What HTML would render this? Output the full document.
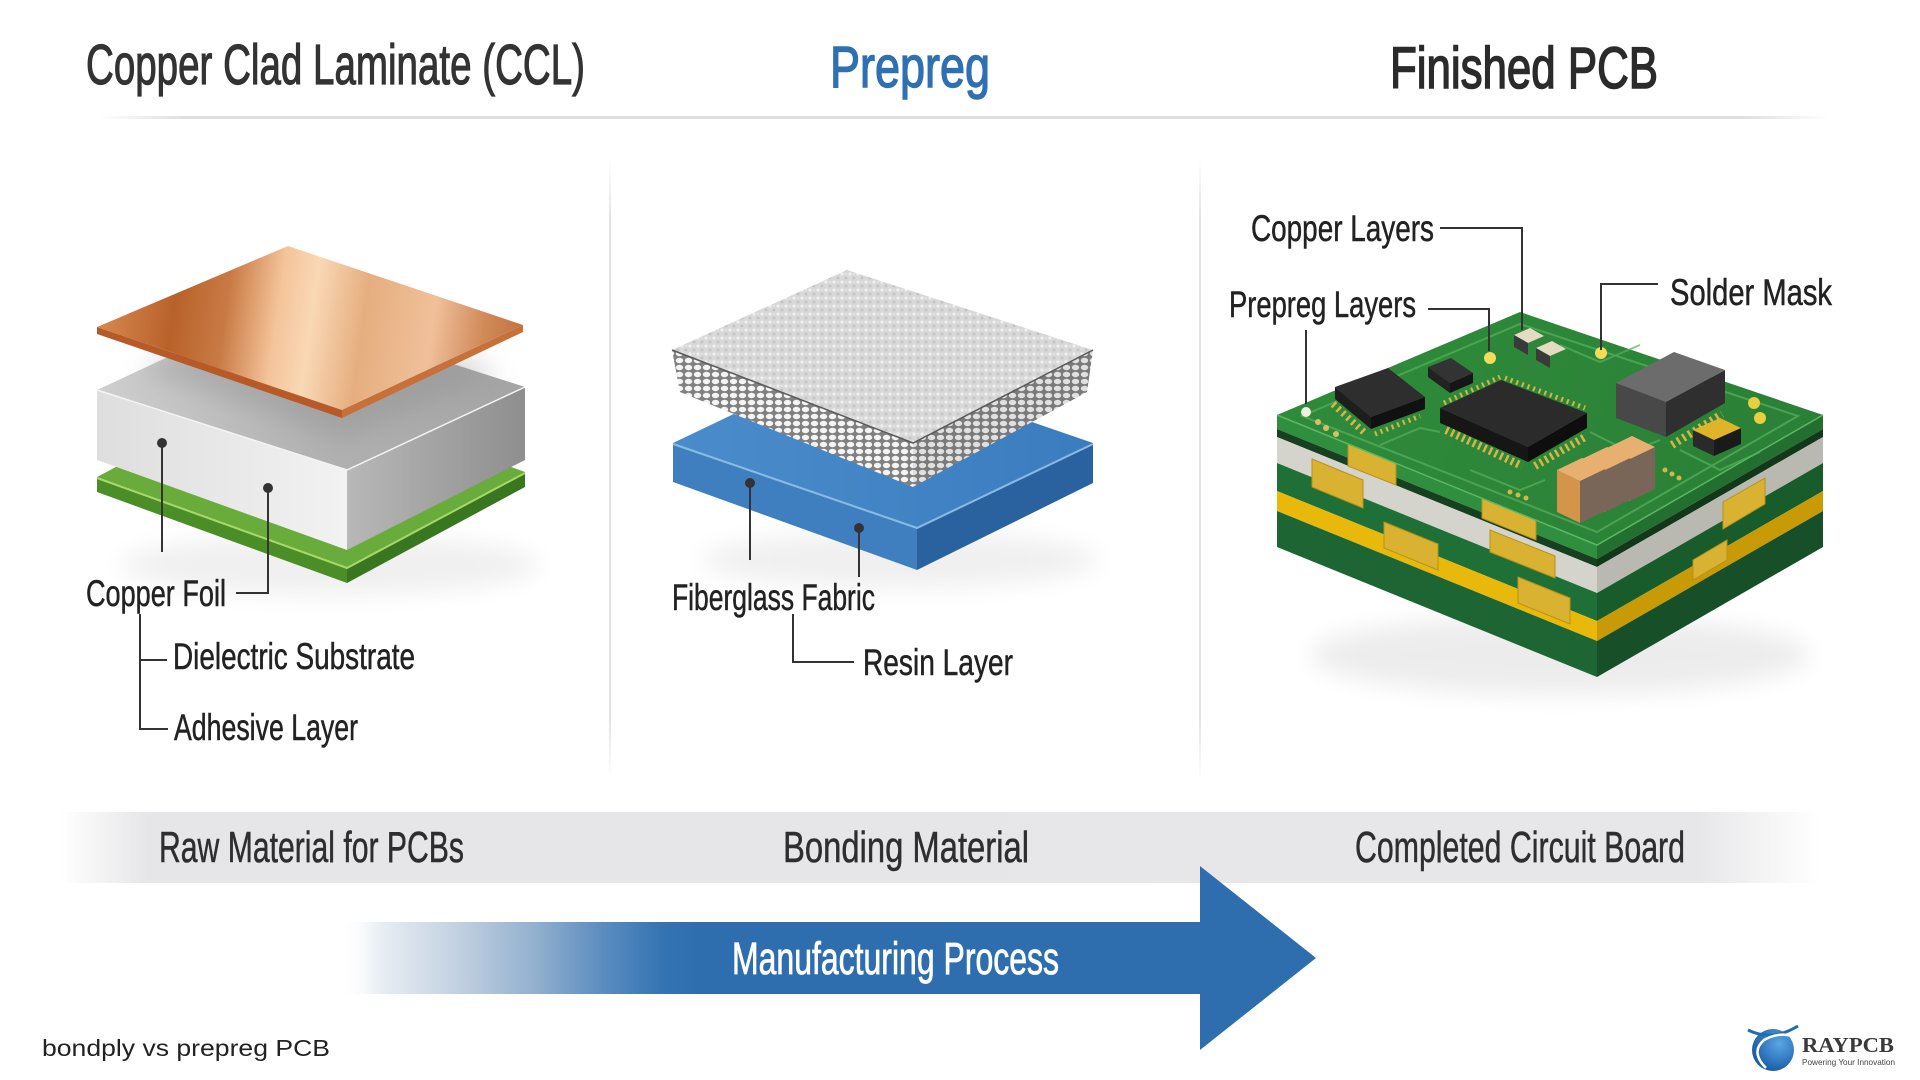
<!DOCTYPE html>
<html><head><meta charset="utf-8"><style>
html,body{margin:0;padding:0;background:#fff;}
svg{display:block}
text{font-family:"Liberation Sans Narrow","Liberation Sans",sans-serif;}
</style></head><body>
<svg width="1920" height="1080" viewBox="0 0 1920 1080" xmlns="http://www.w3.org/2000/svg">
<defs>
  <linearGradient id="sep" x1="0" x2="1" y1="0" y2="0">
    <stop offset="0" stop-color="#e2e2e2" stop-opacity="0"/>
    <stop offset="0.05" stop-color="#dedede"/>
    <stop offset="0.95" stop-color="#dedede"/>
    <stop offset="1" stop-color="#e2e2e2" stop-opacity="0"/>
  </linearGradient>
  <linearGradient id="vdiv" x1="0" x2="0" y1="0" y2="1">
    <stop offset="0" stop-color="#e4e4e4" stop-opacity="0"/>
    <stop offset="0.1" stop-color="#e2e2e2"/>
    <stop offset="0.9" stop-color="#e2e2e2"/>
    <stop offset="1" stop-color="#e4e4e4" stop-opacity="0"/>
  </linearGradient>
  <linearGradient id="band" x1="60" x2="1820" y1="0" y2="0" gradientUnits="userSpaceOnUse">
    <stop offset="0" stop-color="#e6e6e8" stop-opacity="0"/>
    <stop offset="0.05" stop-color="#e6e6e8"/>
    <stop offset="0.93" stop-color="#e7e7e9"/>
    <stop offset="1" stop-color="#e7e7e9" stop-opacity="0"/>
  </linearGradient>
  <linearGradient id="arrow" x1="340" x2="700" y1="0" y2="0" gradientUnits="userSpaceOnUse">
    <stop offset="0" stop-color="#ffffff" stop-opacity="0"/>
    <stop offset="0.11" stop-color="#e9eef4"/>
    <stop offset="0.31" stop-color="#c5d3e2"/>
    <stop offset="0.53" stop-color="#96b2d0"/>
    <stop offset="0.72" stop-color="#5e8ec0"/>
    <stop offset="0.89" stop-color="#3574b3"/>
    <stop offset="1" stop-color="#2e6eaf"/>
  </linearGradient>
  <linearGradient id="cu" x1="97" y1="300" x2="523" y2="360" gradientUnits="userSpaceOnUse">
    <stop offset="0" stop-color="#d98a52"/>
    <stop offset="0.18" stop-color="#b8622a"/>
    <stop offset="0.3" stop-color="#c97a44"/>
    <stop offset="0.42" stop-color="#f4c49a"/>
    <stop offset="0.5" stop-color="#f9d8b4"/>
    <stop offset="0.62" stop-color="#e6ae80"/>
    <stop offset="0.78" stop-color="#f0c09a"/>
    <stop offset="0.9" stop-color="#d08a58"/>
    <stop offset="1" stop-color="#c27040"/>
  </linearGradient>
  <linearGradient id="gtop" x1="97" x2="525" y1="0" y2="0" gradientUnits="userSpaceOnUse">
    <stop offset="0" stop-color="#cfcfcf"/>
    <stop offset="0.5" stop-color="#b2b2b2"/>
    <stop offset="1" stop-color="#a4a4a4"/>
  </linearGradient>
  <linearGradient id="gleft" x1="97" x2="347" y1="0" y2="0" gradientUnits="userSpaceOnUse">
    <stop offset="0" stop-color="#dedede"/>
    <stop offset="1" stop-color="#f2f2f2"/>
  </linearGradient>
  <linearGradient id="gright" x1="347" x2="525" y1="0" y2="0" gradientUnits="userSpaceOnUse">
    <stop offset="0" stop-color="#b8b8b8"/>
    <stop offset="1" stop-color="#8e8e8e"/>
  </linearGradient>
  <linearGradient id="btop" x1="673" x2="1093" y1="0" y2="0" gradientUnits="userSpaceOnUse">
    <stop offset="0" stop-color="#4a8ccb"/>
    <stop offset="1" stop-color="#3b7cbf"/>
  </linearGradient>
  <linearGradient id="pcbtop" x1="1277" x2="1823" y1="312" y2="545" gradientUnits="userSpaceOnUse">
    <stop offset="0" stop-color="#2f8c3b"/>
    <stop offset="1" stop-color="#2a7f36"/>
  </linearGradient>
  <radialGradient id="logo" cx="0.65" cy="0.35" r="0.8">
    <stop offset="0" stop-color="#5aa6e6"/>
    <stop offset="1" stop-color="#0f4f9a"/>
  </radialGradient>
  <pattern id="hex" width="9" height="7" patternUnits="userSpaceOnUse">
    <rect width="9" height="7" fill="#808080"/>
    <ellipse cx="4.5" cy="3.5" rx="3.7" ry="2.7" fill="#f4f4f4"/>
  </pattern>
  <pattern id="fab" width="8" height="8" patternUnits="userSpaceOnUse">
    <rect width="8" height="8" fill="#d8d8d8"/>
    <circle cx="2" cy="2" r="1.6" fill="#f0f0f0"/>
    <circle cx="6" cy="6" r="1.4" fill="#c2c2c2"/>
    <circle cx="6" cy="2" r="1" fill="#e6e6e6"/>
  </pattern>
  <filter id="blur" x="-30%" y="-30%" width="160%" height="160%"><feGaussianBlur stdDeviation="12"/></filter>
</defs>

<rect width="1920" height="1080" fill="#ffffff"/>

<!-- Titles -->
<text x="86" y="84" font-size="57" textLength="499" lengthAdjust="spacingAndGlyphs" fill="#333" stroke="#333" stroke-width="1.2">Copper Clad Laminate (CCL)</text>
<text x="830" y="87" font-size="58" textLength="160" lengthAdjust="spacingAndGlyphs" fill="#2f70b3" stroke="#2f70b3" stroke-width="1.4">Prepreg</text>
<text x="1390" y="88" font-size="58" textLength="268" lengthAdjust="spacingAndGlyphs" fill="#2b2b2b" stroke="#2b2b2b" stroke-width="1.6">Finished PCB</text>

<rect x="98" y="116" width="1732" height="3" fill="url(#sep)"/>

<!-- dividers -->
<rect x="609" y="157" width="2" height="624" fill="url(#vdiv)"/>
<rect x="1199" y="157" width="2" height="624" fill="url(#vdiv)"/>

<!-- ===== CCL illustration ===== -->
<ellipse cx="330" cy="565" rx="210" ry="30" fill="#000" opacity="0.06" filter="url(#blur)"/>
<!-- green adhesive -->
<polygon points="97,477 275,382 525,472 347,567" fill="#6aac3c"/>
<polygon points="97,477 347,567 347,583 97,492" fill="#4b8d27"/>
<polygon points="347,567 525,472 525,487 347,583" fill="#3a7520"/>
<polyline points="97,478 347,568 525,473" fill="none" stroke="#a6d86a" stroke-width="2"/>
<!-- gray dielectric -->
<polygon points="97,390 275,307 525,387 347,470" fill="url(#gtop)"/>
<polygon points="97,390 347,470 347,550 97,460" fill="url(#gleft)"/>
<polygon points="347,470 525,387 525,460 347,550" fill="url(#gright)"/>
<polyline points="97,390 347,470 525,387" fill="none" stroke="#f4f4f4" stroke-width="1.5"/>
<!-- shadow of copper on gray top -->
<polygon points="140,370 300,300 500,372 345,440" fill="#8a8a8a" opacity="0.35" filter="url(#blur)"/>
<!-- copper -->
<polygon points="97,327 342,410 342,418 97,334" fill="#b85a28"/>
<polygon points="342,410 523,325 523,332 342,418" fill="#c8703a"/>
<polygon points="97,327 288,246 523,325 342,410" fill="url(#cu)"/>
<!-- dots & lines -->
<line x1="162" y1="443" x2="162" y2="552" stroke="#333" stroke-width="2"/>
<circle cx="162" cy="443" r="5" fill="#333"/>
<polyline points="268,488 268,593 236,593" fill="none" stroke="#333" stroke-width="2"/>
<circle cx="268" cy="488" r="5" fill="#333"/>
<g fill="#222" stroke="#222" stroke-width="0.5">
<text x="86" y="606" font-size="37" textLength="140" lengthAdjust="spacingAndGlyphs">Copper Foil</text>
<text x="173" y="669" font-size="37" textLength="242" lengthAdjust="spacingAndGlyphs">Dielectric Substrate</text>
<text x="174" y="740" font-size="37" textLength="184" lengthAdjust="spacingAndGlyphs">Adhesive Layer</text>
</g>
<polyline points="140,614 140,729 168,729" fill="none" stroke="#333" stroke-width="2"/>
<line x1="140" y1="660" x2="167" y2="660" stroke="#333" stroke-width="2"/>

<!-- ===== Prepreg illustration ===== -->
<ellipse cx="900" cy="560" rx="200" ry="28" fill="#000" opacity="0.06" filter="url(#blur)"/>
<polygon points="673,443 849,359 1093,443 917,527" fill="url(#btop)"/>
<polygon points="673,443 917,527 917,570 673,482" fill="#3f7fc0"/>
<polygon points="917,527 1093,443 1093,483 917,570" fill="#2a62a0"/>
<polyline points="673,444 917,528 1093,444" fill="none" stroke="#86bbe6" stroke-width="2"/>
<!-- mesh -->
<polygon points="672,350 913,443 913,487 680,392" fill="url(#hex)"/>
<polygon points="913,443 1093,350 1087,392 913,487" fill="url(#hex)"/>
<polygon points="913,443 1093,350 1087,392 913,487" fill="#555" opacity="0.12"/>
<polygon points="672,350 847,270 1093,350 913,443" fill="url(#fab)"/>
<polyline points="672,350 913,443 1093,350" fill="none" stroke="#5a5a5a" stroke-width="1.5"/>
<line x1="750" y1="483" x2="750" y2="560" stroke="#333" stroke-width="2"/>
<circle cx="750" cy="483" r="5" fill="#333"/>
<line x1="859" y1="528" x2="859" y2="577" stroke="#333" stroke-width="2"/>
<circle cx="859" cy="528" r="5" fill="#333"/>
<g fill="#222" stroke="#222" stroke-width="0.5">
<text x="672" y="610" font-size="37" textLength="203" lengthAdjust="spacingAndGlyphs">Fiberglass Fabric</text>
<text x="863" y="675" font-size="37" textLength="150" lengthAdjust="spacingAndGlyphs">Resin Layer</text>
</g>
<polyline points="793,614 793,662 854,662" fill="none" stroke="#333" stroke-width="2"/>

<!-- ===== PCB illustration ===== -->
<ellipse cx="1560" cy="655" rx="250" ry="40" fill="#000" opacity="0.07" filter="url(#blur)"/>
<!-- stack left face bands -->
<polygon points="1277,415 1597,545 1597,559 1277,429" fill="#2f8f3e"/>
<polygon points="1277,429 1597,559 1597,567 1277,437" fill="#16401f"/>
<polygon points="1277,437 1597,567 1597,593 1277,463" fill="#d4d4cc"/>
<polygon points="1277,463 1597,593 1597,621 1277,491" fill="#1f7036"/>
<polygon points="1277,491 1597,621 1597,641 1277,511" fill="#e8b80a"/>
<polygon points="1277,511 1597,641 1597,677 1277,547" fill="#1d6634"/>
<!-- stack right face bands -->
<polygon points="1597,545 1823,415 1823,429 1597,559" fill="#226f2f"/>
<polygon points="1597,559 1823,429 1823,437 1597,567" fill="#123819"/>
<polygon points="1597,567 1823,437 1823,463 1597,593" fill="#b9b9b1"/>
<polygon points="1597,593 1823,463 1823,491 1597,621" fill="#185c2b"/>
<polygon points="1597,621 1823,491 1823,511 1597,641" fill="#c89a06"/>
<polygon points="1597,641 1823,511 1823,547 1597,677" fill="#164f28"/>
<!-- tabs -->
<g fill="#d9b232" stroke="#b8921a" stroke-width="1">
<polygon points="1348,444 1396,463 1396,485 1348,466"/>
<polygon points="1482,498 1536,520 1536,540 1482,518"/>
<polygon points="1312,459 1363,480 1363,508 1312,487"/>
<polygon points="1384,522 1438,544 1438,570 1384,548"/>
<polygon points="1490,530 1555,556 1555,578 1490,552"/>
<polygon points="1518,577 1570,598 1570,624 1518,603"/>
<polygon points="1723,502 1765,478 1765,504 1723,529"/>
<polygon points="1693,560 1727,540 1727,560 1693,580"/>
</g>
<!-- board top -->
<polygon points="1277,415 1520,312 1823,415 1597,545" fill="url(#pcbtop)"/>
<polyline points="1277,415 1597,545 1823,415" fill="none" stroke="#5cb864" stroke-width="1.5"/>
<g fill="none" stroke="#57b25e" stroke-width="2" opacity="0.7">
<polygon points="1302,416 1520,324 1798,416 1597,532"/>
<polyline points="1380,445 1420,428 1440,432"/>
<polyline points="1590,432 1630,452 1660,440"/>
<polyline points="1470,470 1520,490 1545,480"/>
<polyline points="1560,345 1600,362 1640,345"/>
<polyline points="1680,450 1720,470 1760,452"/>
<polyline points="1340,400 1380,385 1410,395"/>
</g>
<!-- left SOIC chip -->
<polygon points="1335,387 1371,417 1371,429 1335,399" fill="#1e1e1e"/>
<polygon points="1371,417 1425,397 1425,409 1371,429" fill="#111"/>
<polygon points="1335,387 1388,368 1425,397 1371,417" fill="#2e2e2e"/>
<line x1="1333" y1="404" x2="1366" y2="434" stroke="#d6b645" stroke-width="7" stroke-dasharray="2.5 4"/>
<line x1="1375" y1="434" x2="1420" y2="416" stroke="#d6b645" stroke-width="5" stroke-dasharray="2 4"/>
<circle cx="1306" cy="412" r="5" fill="#f2f0de"/>
<g fill="#d8c060"><circle cx="1318" cy="422" r="3"/><circle cx="1326" cy="428" r="3"/><circle cx="1336" cy="434" r="3"/></g>
<!-- small cube -->
<polygon points="1428,367 1450,383 1450,393 1428,377" fill="#222"/>
<polygon points="1450,383 1473,373 1473,383 1450,393" fill="#161616"/>
<polygon points="1428,367 1451,358 1473,373 1450,383" fill="#333"/>
<!-- back small parts -->
<polygon points="1514,335 1530,328 1544,336 1528,343" fill="#e4dcc0"/>
<polygon points="1514,335 1528,343 1528,355 1514,347" fill="#3a3a3a"/>
<polygon points="1536,348 1552,341 1566,349 1550,356" fill="#e4dcc0"/>
<polygon points="1536,348 1550,356 1550,368 1536,360" fill="#3a3a3a"/>
<circle cx="1490" cy="358" r="6" fill="#f2dc5a"/>
<circle cx="1601" cy="353" r="6" fill="#f2dc5a"/>
<circle cx="1754" cy="403" r="6" fill="#e6d040"/>
<circle cx="1760" cy="418" r="6" fill="#e6d040"/>
<!-- QFP chip -->
<line x1="1444" y1="403" x2="1500" y2="377" stroke="#d6b645" stroke-width="5" stroke-dasharray="2 4"/>
<line x1="1505" y1="378" x2="1585" y2="408" stroke="#d6b645" stroke-width="5" stroke-dasharray="2 4"/>
<polygon points="1440,408 1528,447 1528,462 1440,423" fill="#161616"/>
<polygon points="1528,447 1587,413 1587,428 1528,462" fill="#0e0e0e"/>
<polygon points="1440,408 1501,380 1587,413 1528,447" fill="#2b2b2b"/>
<line x1="1446" y1="430" x2="1522" y2="466" stroke="#d6b645" stroke-width="8" stroke-dasharray="2.5 3.5"/>
<line x1="1535" y1="466" x2="1585" y2="437" stroke="#d6b645" stroke-width="8" stroke-dasharray="2.5 3.5"/>
<!-- right chip -->
<polygon points="1616,383 1666,402 1666,437 1616,418" fill="#484848"/>
<polygon points="1666,402 1725,370 1725,403 1666,437" fill="#2f2f2f"/>
<polygon points="1616,383 1674,352 1725,370 1666,402" fill="#6c6c6c"/>
<line x1="1672" y1="445" x2="1722" y2="414" stroke="#d6b645" stroke-width="8" stroke-dasharray="2.5 4"/>
<!-- small yellow-black part -->
<polygon points="1693,430 1714,440 1714,456 1693,446" fill="#2a2a2a"/>
<polygon points="1714,440 1741,428 1741,444 1714,456" fill="#1a1a1a"/>
<polygon points="1693,430 1720,418 1741,428 1714,440" fill="#e0b428"/>
<!-- caps -->
<g>
<polygon points="1607,448 1630,459 1630,501 1607,490" fill="#d4954a"/>
<polygon points="1630,459 1655,447 1655,489 1630,501" fill="#7a6658"/>
<polygon points="1607,448 1632,436 1655,447 1630,459" fill="#e8b070"/>
<polygon points="1582,459 1605,470 1605,512 1582,501" fill="#d4954a"/>
<polygon points="1605,470 1630,458 1630,500 1605,512" fill="#7a6658"/>
<polygon points="1582,459 1607,447 1630,458 1605,470" fill="#e8b070"/>
<polygon points="1557,470 1580,481 1580,523 1557,512" fill="#d4954a"/>
<polygon points="1580,481 1605,469 1605,511 1580,523" fill="#7a6658"/>
<polygon points="1557,470 1582,458 1605,469 1580,481" fill="#e8b070"/>
</g>
<g fill="#d6b645"><circle cx="1510" cy="492" r="2.5"/><circle cx="1518" cy="495" r="2.5"/><circle cx="1526" cy="498" r="2.5"/><circle cx="1665" cy="470" r="2.5"/><circle cx="1672" cy="474" r="2.5"/><circle cx="1679" cy="478" r="2.5"/></g>

<!-- PCB labels -->
<g fill="#222" stroke="#222" stroke-width="0.5">
<text x="1251" y="241" font-size="37" textLength="183" lengthAdjust="spacingAndGlyphs">Copper Layers</text>
<text x="1229" y="317" font-size="37" textLength="187" lengthAdjust="spacingAndGlyphs">Prepreg Layers</text>
<text x="1670" y="305" font-size="37" textLength="162" lengthAdjust="spacingAndGlyphs">Solder Mask</text>
</g>
<polyline points="1440,228 1522,228 1522,330" fill="none" stroke="#333" stroke-width="2"/>
<polyline points="1428,309 1489,309 1489,351" fill="none" stroke="#333" stroke-width="2"/>
<line x1="1306" y1="330" x2="1306" y2="404" stroke="#333" stroke-width="2"/>
<polyline points="1658,284 1601,284 1601,350" fill="none" stroke="#333" stroke-width="2"/>

<!-- band -->
<rect x="60" y="812" width="1760" height="71" fill="url(#band)"/>
<g fill="#2e2e2e" stroke="#2e2e2e" stroke-width="0.5">
<text x="159" y="862" font-size="44" textLength="305" lengthAdjust="spacingAndGlyphs">Raw Material for PCBs</text>
<text x="783" y="862" font-size="44" textLength="246" lengthAdjust="spacingAndGlyphs">Bonding Material</text>
<text x="1355" y="862" font-size="44" textLength="330" lengthAdjust="spacingAndGlyphs">Completed Circuit Board</text>
</g>

<!-- arrow -->
<path d="M340,922 H1200 V866 L1316,958 L1200,1050 V994 H340 Z" fill="url(#arrow)"/>
<text x="732" y="974" font-size="45" textLength="327" lengthAdjust="spacingAndGlyphs" fill="#ffffff" stroke="#ffffff" stroke-width="0.8">Manufacturing Process</text>

<!-- footer -->
<text x="42" y="1056" font-size="23" textLength="288" lengthAdjust="spacingAndGlyphs" fill="#222" style="font-family:'Liberation Sans',sans-serif">bondply vs prepreg PCB</text>

<!-- logo -->
<circle cx="1773" cy="1050" r="21" fill="url(#logo)"/>
<path d="M1748,1030 Q1772,1042 1798,1026" fill="none" stroke="#1f6bb5" stroke-width="3"/>
<path d="M1766,1068 Q1750,1052 1764,1040 Q1778,1032 1792,1036" fill="none" stroke="#ffffff" stroke-width="2.5"/>
<text x="1802" y="1052" font-size="21" font-weight="bold" textLength="92" lengthAdjust="spacingAndGlyphs" fill="#3a3a3a" style="font-family:'Liberation Serif',serif">RAYPCB</text>
<text x="1802" y="1065" font-size="8.5" textLength="93" lengthAdjust="spacingAndGlyphs" fill="#444" style="font-family:'Liberation Sans',sans-serif">Powering Your Innovation</text>
</svg>
</body></html>
